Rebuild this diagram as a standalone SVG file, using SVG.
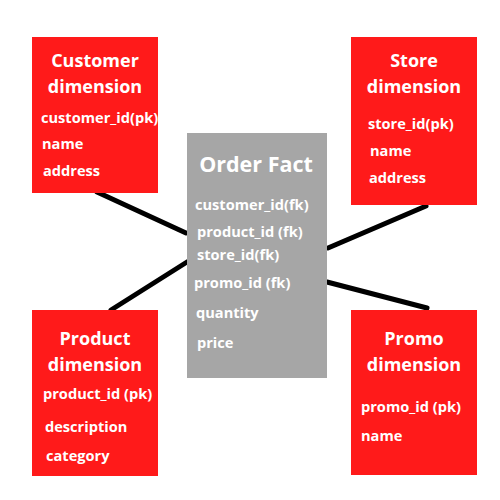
<svg xmlns="http://www.w3.org/2000/svg" width="500" height="500" viewBox="0 0 500 500">
<style>
.dim{fill:#ff1a1a}
.fact{fill:#a6a6a6}
text{font-family:"Open Sans","Noto Sans","Liberation Sans",sans-serif;font-weight:bold;fill:#ffffff}
.title{font-size:18px;text-anchor:middle}
.ftitle{font-size:21.5px;text-anchor:middle}
.field{font-size:14.6px}
.conn{stroke:#000;stroke-width:5;stroke-linecap:round;fill:none}
</style>
<rect width="500" height="500" fill="#ffffff"/>
<g id="connectors">
<line class="conn" x1="97" y1="192" x2="186" y2="233"/>
<line class="conn" x1="111" y1="310" x2="187" y2="262"/>
<line class="conn" x1="328" y1="248" x2="426" y2="206"/>
<line class="conn" x1="327" y1="282" x2="427" y2="308"/>
</g>
<g id="customer">
<rect class="dim" x="32" y="37" width="126" height="156"/>
<text class="title" x="95" y="67">Customer</text>
<text class="title" x="95" y="93">dimension</text>
<text class="field" x="41" y="123">customer_id(pk)</text>
<text class="field" x="42" y="149">name</text>
<text class="field" x="43" y="176">address</text>
</g>
<g id="store">
<rect class="dim" x="351" y="37" width="126" height="168"/>
<text class="title" x="414" y="67">Store</text>
<text class="title" x="414" y="93">dimension</text>
<text class="field" x="368" y="129">store_id(pk)</text>
<text class="field" x="370" y="156">name</text>
<text class="field" x="369" y="183">address</text>
</g>
<g id="product">
<rect class="dim" x="32" y="310" width="126" height="166"/>
<text class="title" x="95" y="345">Product</text>
<text class="title" x="95" y="371">dimension</text>
<text class="field" x="43" y="399">product_id (pk)</text>
<text class="field" x="45" y="432">description</text>
<text class="field" x="46" y="461">category</text>
</g>
<g id="promo">
<rect class="dim" x="351" y="310" width="126" height="165"/>
<text class="title" x="414" y="345">Promo</text>
<text class="title" x="414" y="371">dimension</text>
<text class="field" x="361" y="412">promo_id (pk)</text>
<text class="field" x="361" y="441">name</text>
</g>
<g id="orderfact">
<rect class="fact" x="187" y="133" width="140" height="245"/>
<text class="ftitle" x="256" y="172">Order Fact</text>
<text class="field" x="195" y="210">customer_id(fk)</text>
<text class="field" x="197" y="237">product_id (fk)</text>
<text class="field" x="197" y="260">store_id(fk)</text>
<text class="field" x="194" y="288">promo_id (fk)</text>
<text class="field" x="196" y="318">quantity</text>
<text class="field" x="197" y="348">price</text>
</g>
</svg>
